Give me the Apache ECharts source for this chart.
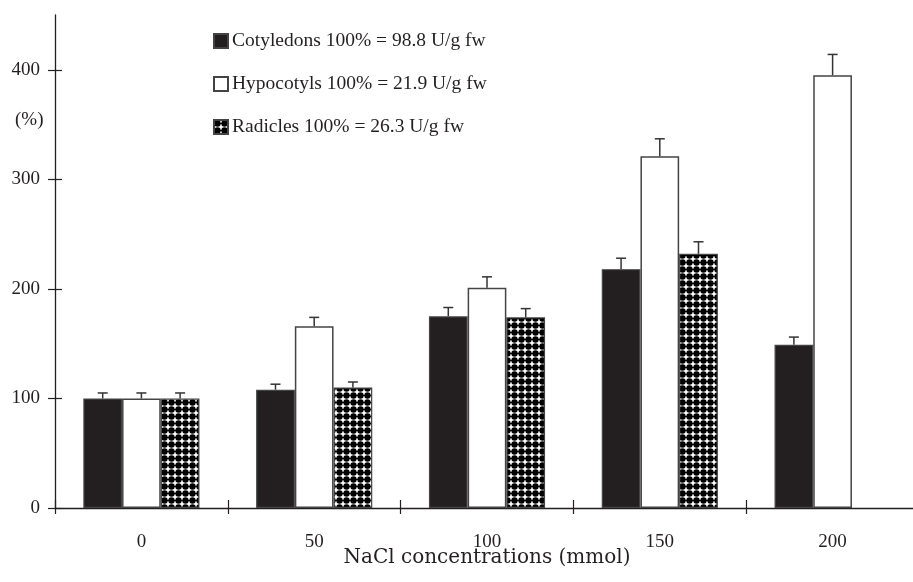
<!DOCTYPE html>
<html>
<head>
<meta charset="utf-8">
<script src="https://cdn.jsdelivr.net/npm/echarts@6/dist/echarts.min.js"></script>
<style>
  html, body { margin: 0; padding: 0; background: #fff; }
  #chart { width: 913px; height: 582px; }
</style>
</head>
<body>
<div id="chart"></div>
<script>
// data
const categories = ['0', '50', '100', '150', '200'];
const seriesNames = [
  'Cotyledons 100% = 98.8 U/g fw',
  'Hypocotyls 100% = 21.9 U/g fw',
  'Radicles 100% = 26.3 U/g fw'
];
const cotyledons = [100, 108, 175, 218, 149];
const hypocotyls = [100, 166, 201, 321, 395];
const radicles = [100, 110, 174, 232, null];
const cotyledonsErr = [5, 5, 8, 10, 7];
const hypocotylsErr = [5, 8, 10, 16, 19];
const radiclesErr = [5, 5, 8, 11, null];
const yTicks = [0, 100, 200, 300, 400];

const FONT = 'Liberation Serif';
const INK = '#231f20';
const BAR_RATIO = 0.224;

// dotted fill for the radicles bars
const makePattern = () => {
  const c = document.createElement('canvas');
  c.width = 7; c.height = 7;
  const ctx = c.getContext('2d');
  ctx.fillStyle = '#fff';
  ctx.fillRect(0, 0, 7, 7);
  ctx.fillStyle = '#000';
  ctx.beginPath();
  ctx.arc(3.5, 3.5, 3.2, 0, Math.PI * 2);
  ctx.fill();
  ctx.fillRect(0, 3, 7, 1);
  return c;
};

const values = [cotyledons, hypocotyls, radicles];
const errs = [cotyledonsErr, hypocotylsErr, radiclesErr];
const errData = [];
values.forEach((vals, s) => {
  vals.forEach((v, i) => {
    if (v != null && errs[s][i] != null) errData.push([i, v, errs[s][i], s - 1]);
  });
});

const chart = echarts.init(document.getElementById('chart'));

const barStyles = [
  { color: INK, borderColor: '#444', borderWidth: 1.2 },
  { color: '#fff', borderColor: '#444', borderWidth: 1.5 },
  { color: { image: makePattern(), repeat: 'repeat' }, borderColor: '#444', borderWidth: 1.2 }
];

const tickStyle = { color: INK, width: 1.2 };
const axisLineStyle = { show: true, lineStyle: { color: INK, width: 1.3 } };

// ticks cross the axis: the tick axis is shifted inward and its ticks are twice as long,
// the plain axis draws only the line
const option = {
  animation: false,
  textStyle: { fontFamily: FONT },
  grid: { left: 55, right: -6, top: 15, bottom: 74, outerBoundsMode: 'none' },
  legend: {
    data: seriesNames,
    orient: 'vertical',
    left: 208,
    top: 26,
    itemWidth: 14,
    itemHeight: 14,
    itemGap: 23,
    icon: 'rect',
    selectedMode: false,
    textStyle: { fontFamily: FONT, fontSize: 19.5, color: INK, padding: [0, 0, 0, -1] }
  },
  graphic: [{
    type: 'text',
    left: 15,
    top: 111,
    style: { text: '(%)', font: '19px "Liberation Serif"', fill: INK }
  }],
  xAxis: [{
    type: 'category',
    data: categories,
    boundaryGap: true,
    offset: -8,
    axisLine: { show: false },
    axisTick: { show: true, length: 14, lineStyle: tickStyle },
    axisLabel: { margin: 33, fontSize: 19, color: INK, fontFamily: FONT },
    name: 'NaCl concentrations (mmol)',
    nameLocation: 'middle',
    nameGap: 48,
    nameMoveOverlap: false,
    nameTextStyle: { fontSize: 20, color: INK, fontFamily: 'DejaVu Serif' }
  }, {
    type: 'category',
    data: categories,
    position: 'bottom',
    boundaryGap: true,
    axisLine: axisLineStyle,
    axisTick: { show: false },
    axisLabel: { show: false }
  }],
  yAxis: [{
    type: 'value',
    min: 0,
    max: 450,
    interval: 100,
    offset: -7,
    splitLine: { show: false },
    axisLine: { show: false },
    axisTick: { show: true, length: 14, customValues: yTicks, lineStyle: tickStyle },
    axisLabel: { customValues: yTicks, margin: 22, fontSize: 19, color: INK, fontFamily: FONT }
  }, {
    type: 'value',
    position: 'left',
    min: 0,
    max: 450,
    interval: 100,
    splitLine: { show: false },
    axisLine: axisLineStyle,
    axisTick: { show: false },
    axisLabel: { show: false }
  }],
  series: [
    ...values.map((vals, s) => ({
      name: seriesNames[s],
      type: 'bar',
      data: vals,
      barWidth: (BAR_RATIO * 100) + '%',
      barGap: '0%',
      itemStyle: barStyles[s]
    })),
    {
      type: 'custom',
      name: 'err',
      z: 5,
      data: errData,
      encode: { x: 0, y: 1 },
      renderItem: function (params, api) {
        const v = api.value(1);
        const e = api.value(2);
        const slot = api.value(3);
        const bw = api.size([1, 0])[0] * BAR_RATIO;
        const base = api.coord([api.value(0), v]);
        const top = api.coord([api.value(0), v + e]);
        const cx = base[0] + slot * bw;
        const style = { stroke: '#333', lineWidth: 1.5 };
        return {
          type: 'group',
          children: [
            { type: 'line', shape: { x1: cx, y1: base[1], x2: cx, y2: top[1] }, style },
            { type: 'line', shape: { x1: cx - 5, y1: top[1], x2: cx + 5, y2: top[1] }, style }
          ]
        };
      }
    }
  ]
};

chart.setOption(option);
</script>
</body>
</html>
